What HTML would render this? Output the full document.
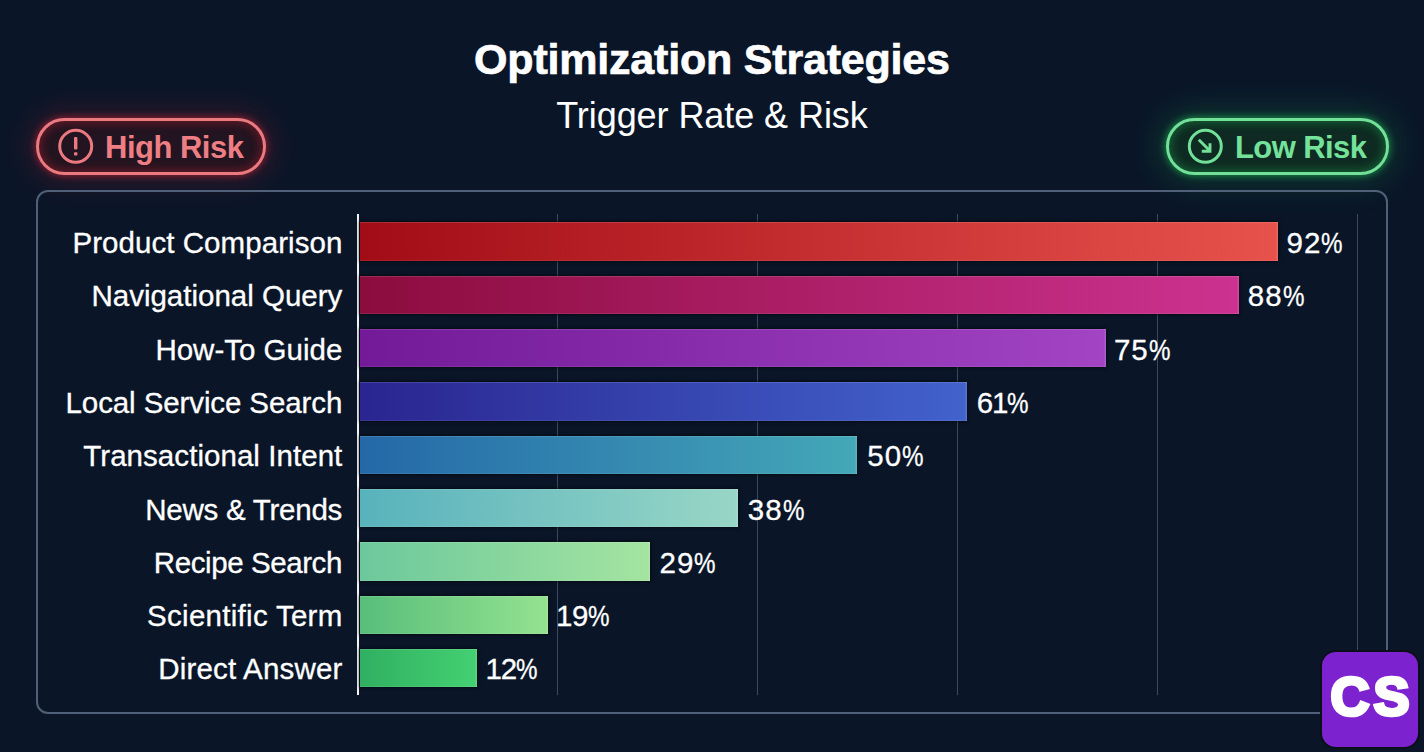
<!DOCTYPE html>
<html><head><meta charset="utf-8"><style>
*{margin:0;padding:0;box-sizing:border-box}
html,body{width:1424px;height:752px;overflow:hidden}
body{background:#0a1628;font-family:"Liberation Sans",sans-serif;color:#fff;position:relative}
.t{position:absolute;white-space:nowrap;line-height:1}
#title{left:0;width:1424px;text-align:center;top:37.9px;font-size:43px;font-weight:700;letter-spacing:-0.2px;text-indent:-0.2px;-webkit-text-stroke:0.7px #fff}
#sub{left:0;width:1424px;text-align:center;top:97.9px;font-size:36px;font-weight:400;letter-spacing:-0.07px;text-indent:-0.07px}
.pill{position:absolute;top:118px;height:57px;border-radius:29px;border:3px solid}
#hr{left:36px;width:230px;border-color:#ea7a80;background:#221420;box-shadow:0 0 7px 1px rgba(225,40,55,.55),0 0 30px 8px rgba(200,30,45,.2), inset 0 0 10px 2px rgba(190,30,45,.45)}
#lr{left:1166px;width:223px;border-color:#72e098;background:#0e2a22;box-shadow:0 0 7px 1px rgba(40,210,90,.55),0 0 30px 8px rgba(30,190,80,.2), inset 0 0 10px 2px rgba(30,180,80,.4)}
.ptxt{position:absolute;top:131.8px;font-size:31px;font-weight:700;line-height:1;white-space:nowrap}
#box{position:absolute;left:36px;top:189.5px;width:1352px;height:524.3px;border:2px solid #506078;border-radius:12px}
.grid{position:absolute;top:214px;height:481px;width:1px;background:#3a4a60;margin-left:0px}
#axis{position:absolute;left:356.8px;top:214px;width:2.6px;height:481px;background:#f4f4f6}
.bar{position:absolute;left:359.5px;height:38.3px;box-shadow:0 0 3px 1px rgba(0,0,0,.55), inset 0 1px 0 rgba(255,255,255,.13), inset -1.5px 0 0 rgba(255,255,255,.12), inset 0 -1px 0 rgba(255,255,255,.08)}
.lab{position:absolute;font-size:29.5px;line-height:1;white-space:nowrap;text-align:right;-webkit-text-stroke:0.3px #fff}
.val{position:absolute;font-size:29.5px;line-height:1;white-space:nowrap;-webkit-text-stroke:0.3px #fff}
.pct{display:inline-block;transform:scaleX(.82);transform-origin:0 0}
#cs{position:absolute;left:1322px;top:652px;width:96px;height:95px;border-radius:14px;background:#7d22cf;box-shadow:0 0 0 2px #0a0f1a}
#cstxt{position:absolute;left:1322px;width:96px;text-align:center;top:669px;font-size:54px;font-weight:700;line-height:1;letter-spacing:4px;text-indent:4px;-webkit-text-stroke:3.6px #fff}
</style></head><body>
<div id="title" class="t">Optimization Strategies</div>
<div id="sub" class="t">Trigger Rate &amp; Risk</div>
<div id="hr" class="pill"></div>
<svg style="position:absolute;left:56px;top:127px" width="40" height="40" viewBox="0 0 40 40"><circle cx="19.7" cy="19.3" r="16" fill="none" stroke="#ea7a80" stroke-width="3"/><rect x="18" y="10" width="3.4" height="12.5" rx="1" fill="#ea7a80"/><rect x="18" y="25.2" width="3.4" height="3.4" rx="0.8" fill="#ea7a80"/></svg>
<div class="ptxt" style="left:105px;color:#ec7e84;letter-spacing:-0.5px">High Risk</div>
<div id="lr" class="pill"></div>
<svg style="position:absolute;left:1186px;top:127px" width="40" height="40" viewBox="0 0 40 40"><circle cx="19.3" cy="19.3" r="16" fill="none" stroke="#72e098" stroke-width="3"/><path d="M12.8 12.8 L23.3 23.3 M24 16.2 V24.3 H15.8" fill="none" stroke="#72e098" stroke-width="2.9"/></svg>
<div class="ptxt" style="left:1235px;color:#74e29a;letter-spacing:-0.6px">Low Risk</div>
<div id="box"></div>
<div class="grid" style="left:557px"></div><div class="grid" style="left:757px"></div><div class="grid" style="left:957px"></div><div class="grid" style="left:1157px"></div><div class="grid" style="left:1357px"></div>
<div id="axis"></div>
<div class="bar" style="top:222.30px;width:918.1px;background:linear-gradient(90deg,#a20c16,#e8524c)"></div><div class="lab" style="top:228.03px;letter-spacing:0.059px;right:1081.64px">Product Comparison</div><div class="val" style="top:228.03px;left:1286.40px;letter-spacing:1.100px">92<span class="pct">%</span></div><div class="bar" style="top:275.65px;width:879.3px;background:linear-gradient(90deg,#8c0c3e,#cc3290)"></div><div class="lab" style="top:281.33px;letter-spacing:-0.000px;right:1081.70px">Navigational Query</div><div class="val" style="top:281.33px;left:1247.80px;letter-spacing:1.000px">88<span class="pct">%</span></div><div class="bar" style="top:329.00px;width:746.4px;background:linear-gradient(90deg,#721a98,#a244c4)"></div><div class="lab" style="top:334.63px;letter-spacing:-0.000px;right:1081.70px">How-To Guide</div><div class="val" style="top:334.63px;left:1114.10px;letter-spacing:0.800px">75<span class="pct">%</span></div><div class="bar" style="top:382.35px;width:607.8px;background:linear-gradient(90deg,#2a2590,#4262cc)"></div><div class="lab" style="top:387.93px;letter-spacing:-0.106px;right:1081.81px">Local Service Search</div><div class="val" style="top:387.93px;left:976.70px;letter-spacing:-1.200px">61<span class="pct">%</span></div><div class="bar" style="top:435.70px;width:497.8px;background:linear-gradient(90deg,#2468a8,#44a8b8)"></div><div class="lab" style="top:441.23px;letter-spacing:0.053px;right:1081.65px">Transactional Intent</div><div class="val" style="top:441.23px;left:867.30px;letter-spacing:1.000px">50<span class="pct">%</span></div><div class="bar" style="top:489.05px;width:378.4px;background:linear-gradient(90deg,#58b2bc,#98d6c6)"></div><div class="lab" style="top:494.53px;letter-spacing:-0.250px;right:1081.95px">News &amp; Trends</div><div class="val" style="top:494.53px;left:747.70px;letter-spacing:1.100px">38<span class="pct">%</span></div><div class="bar" style="top:542.40px;width:290.9px;background:linear-gradient(90deg,#6cc89c,#a4e4a0)"></div><div class="lab" style="top:547.83px;letter-spacing:-0.416px;right:1082.12px">Recipe Search</div><div class="val" style="top:547.83px;left:659.40px;letter-spacing:1.100px">29<span class="pct">%</span></div><div class="bar" style="top:595.75px;width:188.4px;background:linear-gradient(90deg,#58be7a,#94e290)"></div><div class="lab" style="top:601.13px;letter-spacing:0.285px;right:1081.41px">Scientific Term</div><div class="val" style="top:601.13px;left:555.90px;letter-spacing:-0.400px">19<span class="pct">%</span></div><div class="bar" style="top:649.10px;width:117.3px;background:linear-gradient(90deg,#30b062,#44d072)"></div><div class="lab" style="top:654.43px;letter-spacing:0.166px;right:1081.53px">Direct Answer</div><div class="val" style="top:654.43px;left:485.40px;letter-spacing:-1.100px">12<span class="pct">%</span></div>
<div id="cs"></div>
<div id="cstxt">CS</div>
</body></html>
